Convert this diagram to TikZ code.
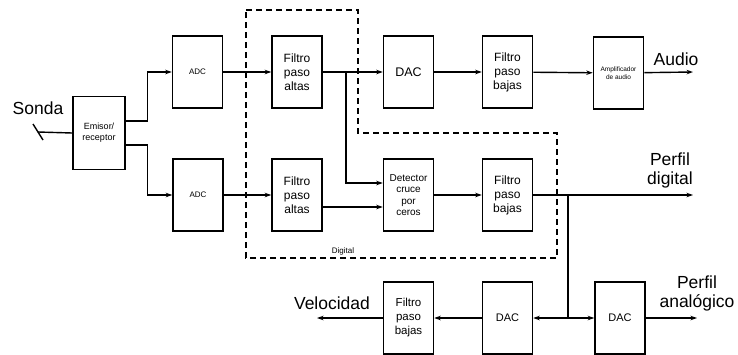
\documentclass[tikz,border=0pt]{standalone}
\usepackage{fontspec}
\setsansfont{Liberation Sans}
\usetikzlibrary{arrows.meta}

\begin{document}
\begin{tikzpicture}[x=1pt, y=-1pt, font=\sffamily,
    block/.style={draw, line width=1.5pt, minimum width=50pt, minimum height=72pt,
                  align=center, inner sep=1pt},
    link/.style={line width=1.4pt},
    arr/.style={link, -{Stealth[length=6.5pt, width=4.5pt]}},
    big/.style={font=\sffamily\fontsize{17.5}{19}\selectfont, align=center}]

    % Fix the canvas to the reference size
    \useasboundingbox (0,0) rectangle (738,354);

    % Front end: probe, transceiver and converters
    \node[block, minimum width=52pt, minimum height=73pt,
          font=\sffamily\fontsize{9}{11}\selectfont] (emi) at (99,133) {Emisor/\\receptor};
    \node[block, font=\sffamily\fontsize{8}{10}\selectfont] (adcA) at (197.5,72) {ADC};
    \node[block, font=\sffamily\fontsize{8}{10}\selectfont] (adcB) at (198,195) {ADC};

    % Digital stage
    \node[block, font=\sffamily\fontsize{12}{14}\selectfont] (fpaA) at (297,72) {Filtro\\paso\\altas};
    \node[block, font=\sffamily\fontsize{12}{14}\selectfont] (fpaB) at (297,195) {Filtro\\paso\\altas};
    \node[block, font=\sffamily\fontsize{12.5}{14}\selectfont] (dacA) at (408.5,72) {DAC};
    \node[block, font=\sffamily\fontsize{10}{11.5}\selectfont] (det) at (408.5,195) {Detector\\cruce\\por\\ceros};
    \node[block, font=\sffamily\fontsize{12}{14}\selectfont] (fpbA) at (507.5,72) {Filtro\\paso\\bajas};
    \node[block, font=\sffamily\fontsize{12}{14}\selectfont] (fpbB) at (507.5,195) {Filtro\\paso\\bajas};
    \node[block, font=\sffamily\fontsize{6.5}{8}\selectfont] (amp) at (618.5,73) {Amplificador\\de audio};

    % Bottom row
    \node[block, font=\sffamily\fontsize{11.5}{14}\selectfont] (fpbC) at (408.5,318) {Filtro\\paso\\bajas};
    \node[block, font=\sffamily\fontsize{11}{13}\selectfont] (dacB) at (507.5,318) {DAC};
    \node[block, font=\sffamily\fontsize{11}{13}\selectfont] (dacC) at (620,318) {DAC};

    % Free ends and junctions
    \coordinate (probe) at (38,132);
    \coordinate (jA) at (346,72);
    \coordinate (jB) at (568,195);
    \coordinate (jC) at (568,318);
    \coordinate (outAudio) at (693,72);
    \coordinate (outDig) at (693,195);
    \coordinate (outAna) at (697,318);
    \coordinate (outVel) at (317,318);

    % Probe
    \draw[link] (emi.west) -- (probe);
    \draw[link] (probe) ++(-5,-8) -- ++(10,16);
    \node[big] (sonda) at (38,108) {Sonda};

    % Transceiver to converters
    \draw[arr] ([yshift=12pt]emi.east) -- ++(22,0) |- (adcA.west);
    \draw[arr] ([yshift=-12pt]emi.east) -- ++(22,0) |- (adcB.west);
    \draw[arr] (adcA) -- (fpaA);
    \draw[arr] (adcB) -- (fpaB);

    % Audio path
    \draw[link] (fpaA) -- (jA);
    \draw[arr] (jA) -- (dacA);
    \draw[arr] (dacA) -- (fpbA);
    \draw[arr] (fpbA) -- (amp);
    \draw[arr] (amp) -- (outAudio);
    \node[big] (audio) at (676,59) {Audio};

    % Zero-crossing path
    \draw[arr] (jA) |- ([yshift=12pt]det.west);
    \draw[arr] ([yshift=-12pt]fpaB.east) -- ([yshift=-12pt]det.west);
    \draw[arr] (det) -- (fpbB);
    \draw[link] (fpbB) -- (jB);
    \draw[arr] (jB) -- (outDig);
    \node[big] (pdig) at (670,170) {Perfil\\digital};

    % Bottom outputs
    \draw[link] (jB) -- (jC);
    \draw[arr] (jC) -- (dacC);
    \draw[arr] (jC) -- (dacB);
    \draw[arr] (dacB) -- (fpbC);
    \draw[arr] (fpbC) -- (outVel);
    \draw[arr] (dacC) -- (outAna);
    \node[big] (vel) at (332,303) {Velocidad};
    \node[big] (pana) at (697,293) {Perfil\\anal\'ogico};

    % Digital region
    \draw[line width=1.2pt, dash pattern=on 6pt off 4pt]
        (246,10) -- (358,10) -- (358,133) -- (557,133) -- (557,258) -- (246,258) -- cycle;
    \node[font=\sffamily\fontsize{8}{10}\selectfont] (dig) at (343,251) {Digital};

\end{tikzpicture}
\end{document}
